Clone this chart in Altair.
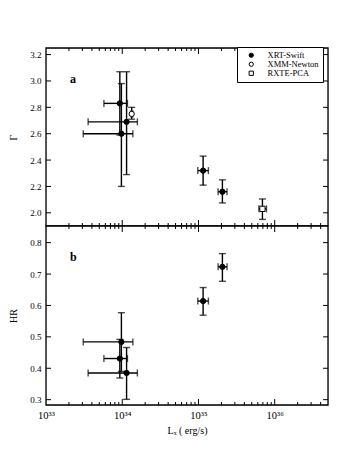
import altair as alt
import pandas as pd

# ---- data ----
swift_lx = [9.3e33, 1.14e34, 9.75e33, 1.15e35, 2.06e35]
swift_lx_lo = [5.75e33, 3.57e33, 3.08e33, 9.8e34, 1.81e35]
swift_lx_hi = [1.17e34, 1.58e34, 1.38e34, 1.35e35, 2.37e35]
swift_gamma = [2.83, 2.69, 2.60, 2.32, 2.16]
swift_gamma_lo = [2.59, 2.29, 2.20, 2.21, 2.075]
swift_gamma_hi = [3.07, 3.07, 2.98, 2.43, 2.25]
swift_hr = [0.431, 0.385, 0.484, 0.614, 0.723]
swift_hr_lo = [0.369, 0.301, 0.39, 0.569, 0.677]
swift_hr_hi = [0.492, 0.466, 0.577, 0.657, 0.765]

xmm_lx = [1.33e34]
xmm_lx_lo = [1.29e34]
xmm_lx_hi = [1.38e34]
xmm_gamma = [2.75]
xmm_gamma_lo = [2.71]
xmm_gamma_hi = [2.80]

rxte_lx = [6.9e35]
rxte_lx_lo = [6.2e35]
rxte_lx_hi = [7.8e35]
rxte_gamma = [2.03]
rxte_gamma_lo = [1.95]
rxte_gamma_hi = [2.105]

instruments = ["XRT-Swift", "XMM-Newton", "RXTE-PCA"]
x_major = [1e33, 1e34, 1e35, 1e36]
x_minor = [m * 10 ** e for e in (33, 34, 35, 36) for m in range(2, 10) if m * 10 ** e <= 5e36]
gamma_ticks = [2.0, 2.2, 2.4, 2.6, 2.8, 3.0, 3.2]
hr_ticks = [0.3, 0.4, 0.5, 0.6, 0.7, 0.8]

# ---- tables ----
top_df = pd.DataFrame({
    "inst": [instruments[0]] * 5 + [instruments[1]] + [instruments[2]],
    "lx": swift_lx + xmm_lx + rxte_lx,
    "lx_lo": swift_lx_lo + xmm_lx_lo + rxte_lx_lo,
    "lx_hi": swift_lx_hi + xmm_lx_hi + rxte_lx_hi,
    "y": swift_gamma + xmm_gamma + rxte_gamma,
    "y_lo": swift_gamma_lo + xmm_gamma_lo + rxte_gamma_lo,
    "y_hi": swift_gamma_hi + xmm_gamma_hi + rxte_gamma_hi,
})
bot_df = pd.DataFrame({
    "inst": [instruments[0]] * 5,
    "lx": swift_lx, "lx_lo": swift_lx_lo, "lx_hi": swift_lx_hi,
    "y": swift_hr, "y_lo": swift_hr_lo, "y_hi": swift_hr_hi,
})

FONT = "Liberation Serif"
W, H1, H2 = 282, 178, 179
LW = 1.4

label_expr = ("datum.value < 5e33 ? '10³³' : datum.value < 5e34 ? '10³⁴' : "
              "datum.value < 5e35 ? '10³⁵' : '10³⁶'")

xscale = alt.Scale(type="log", domain=[1e33, 5e36], nice=False)


def panel(df, ydomain, yticks, ytitle, letter, H, show_x, legend):
    yscale = alt.Scale(domain=ydomain, nice=False, zero=False)
    if show_x:
        xaxis = alt.Axis(values=x_major, labelExpr=label_expr, ticks=False, domain=False,
                         grid=False, labelFlush=False, labelPadding=5, labelFontSize=10.5,
                         title="Lₓ ( erg/s)", titleFontSize=10, titlePadding=5,
                         titleFontWeight="normal", labelFont=FONT, titleFont=FONT)
    else:
        xaxis = alt.Axis(values=x_major, labels=False, ticks=False, domain=False,
                         grid=False, title=None)
    yaxis = alt.Axis(values=yticks, format=".1f", ticks=False, domain=False, grid=False,
                     labelPadding=5, labelFontSize=9, title=ytitle, titleFontSize=10,
                     titleFontWeight="normal", titlePadding=11, labelFont=FONT, titleFont=FONT)

    base = alt.Chart(df)
    X = alt.X("lx:Q", scale=xscale, axis=xaxis)
    Y = alt.Y("y:Q", scale=yscale, axis=yaxis)

    hbar = base.mark_rule(color="black", strokeWidth=LW).encode(
        x=alt.X("lx_lo:Q", scale=xscale, axis=xaxis), x2="lx_hi:Q", y=Y)
    vbar = base.mark_rule(color="black", strokeWidth=LW).encode(
        x=X, y=alt.Y("y_lo:Q", scale=yscale, axis=yaxis), y2="y_hi:Q")
    cap_l = base.mark_tick(color="black", orient="vertical", size=7, thickness=LW).encode(
        x=alt.X("lx_lo:Q", scale=xscale, axis=xaxis), y=Y)
    cap_r = base.mark_tick(color="black", orient="vertical", size=7, thickness=LW).encode(
        x=alt.X("lx_hi:Q", scale=xscale, axis=xaxis), y=Y)
    cap_b = base.mark_tick(color="black", orient="horizontal", size=7, thickness=LW).encode(
        x=X, y=alt.Y("y_lo:Q", scale=yscale, axis=yaxis))
    cap_t = base.mark_tick(color="black", orient="horizontal", size=7, thickness=LW).encode(
        x=X, y=alt.Y("y_hi:Q", scale=yscale, axis=yaxis))

    leg = None
    if legend:
        leg = alt.Legend(title=None, orient="none", legendX=W - 91, legendY=-1,
                         labelFont=FONT, labelFontSize=8.5, symbolSize=18,
                         symbolStrokeWidth=1, padding=4, rowPadding=0,
                         strokeColor="black", fillColor="white", labelOffset=12,
                         cornerRadius=0, symbolOffset=6)
    pts = base.mark_point(strokeWidth=1, size=28, opacity=1).encode(
        x=X, y=Y,
        shape=alt.Shape("inst:N", scale=alt.Scale(domain=instruments,
                        range=["circle", "circle", "square"]), legend=leg),
        fill=alt.Fill("inst:N", scale=alt.Scale(domain=instruments,
                      range=["black", "white", "white"]), legend=leg),
        stroke=alt.Stroke("inst:N", scale=alt.Scale(domain=instruments,
                          range=["black", "black", "black"]), legend=leg),
    )

    # inward tick marks on all four sides
    xmaj = pd.DataFrame({"t": x_major[1:]})
    xmin = pd.DataFrame({"t": x_minor})
    ytk = pd.DataFrame({"t": yticks})
    tk = []
    for d, ln in ((xmaj, 6), (xmin, 3)):
        tk.append(alt.Chart(d).mark_rule(color="black", strokeWidth=1).encode(
            x=alt.X("t:Q", scale=xscale, axis=xaxis), y=alt.value(0), y2=alt.value(ln)))
        tk.append(alt.Chart(d).mark_rule(color="black", strokeWidth=1).encode(
            x=alt.X("t:Q", scale=xscale, axis=xaxis), y=alt.value(H - ln), y2=alt.value(H)))
    tk.append(alt.Chart(ytk).mark_rule(color="black", strokeWidth=1).encode(
        y=alt.Y("t:Q", scale=yscale, axis=yaxis), x=alt.value(0), x2=alt.value(5)))
    tk.append(alt.Chart(ytk).mark_rule(color="black", strokeWidth=1).encode(
        y=alt.Y("t:Q", scale=yscale, axis=yaxis), x=alt.value(W - 5), x2=alt.value(W)))

    frame = alt.Chart(pd.DataFrame({"s": [letter]})).mark_rect(
        fill=None, stroke="black", strokeWidth=1.3
    ).encode(x=alt.value(0), x2=alt.value(W), y=alt.value(0), y2=alt.value(H))

    txt = alt.Chart(pd.DataFrame({"s": [letter]})).mark_text(
        font=FONT, fontSize=12, fontWeight="bold", align="left", baseline="middle"
    ).encode(text="s:N", x=alt.value(24), y=alt.value(31))

    return alt.layer(*tk, hbar, vbar, cap_l, cap_r, cap_b, cap_t, pts, txt, frame).properties(
        width=W, height=H)


top = panel(top_df, [1.9, 3.25], gamma_ticks, "Γ", "a", H1, False, True)
bot = panel(bot_df, [0.283, 0.853], hr_ticks, "HR", "b", H2, True, False)

chart = alt.vconcat(top, bot, spacing=0, bounds="flush").properties(
    padding={"left": 0, "top": 38, "right": 5, "bottom": 5}
).configure_view(stroke=None).configure(font=FONT)

chart.save("out.html", embed_options={"renderer": "svg", "actions": False})
